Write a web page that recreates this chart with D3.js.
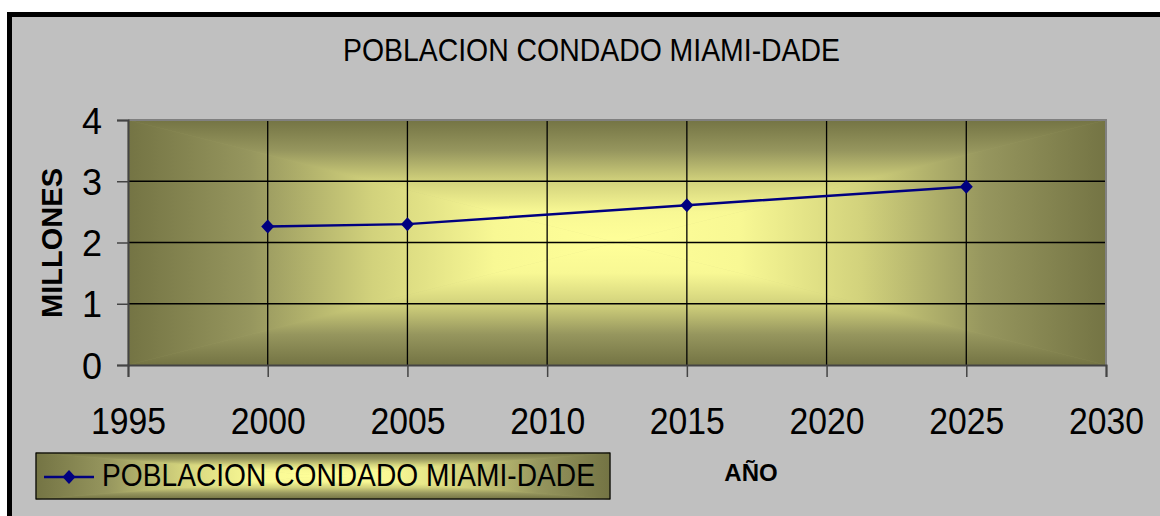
<!DOCTYPE html>
<html>
<head>
<meta charset="utf-8">
<script src="https://cdn.jsdelivr.net/npm/d3@7"></script>
<style>
body{margin:0;background:#fff;}
text{font-family:"Liberation Sans",Arial,sans-serif;fill:#000;}
</style>
</head>
<body>
<div id="chart"></div>
<script>
var years  = [2000, 2005, 2015, 2025];
var values = [2.26, 2.30, 2.61, 2.91];
var xTicks = [1995, 2000, 2005, 2010, 2015, 2020, 2025, 2030];
var yTicks = [0, 1, 2, 3, 4];
var title = "POBLACION CONDADO MIAMI-DADE";
var seriesName = "POBLACION CONDADO MIAMI-DADE";

var W = 1160, H = 516;
var plot = {left:128, top:120, right:1106, bottom:365};

var x = d3.scaleLinear().domain([1995, 2030]).range([plot.left, plot.right]);
var y = d3.scaleLinear().domain([0, 4]).range([plot.bottom, plot.top]);

var svg = d3.select("#chart").append("svg")
	.attr("width", W).attr("height", H);

var defs = svg.append("defs");
var stops = [[0,"#747444"],[0.25,"#96965e"],[0.5,"#d2d27c"],[0.75,"#f8f894"],[1,"#ffff99"]];
var gid = 0;

// excel style "from center" gradient, built from 4 triangles
function centerFill(g, x0, y0, x1, y1){
	var cx = (x0+x1)/2, cy = (y0+y1)/2;
	g.append("rect").attr("x",x0).attr("y",y0).attr("width",x1-x0).attr("height",y1-y0)
		.attr("fill","#b0b070");
	var parts = [
		{pts:[[x0,y0],[x1,y0],[cx,cy]], g:[0,y0,0,cy]},
		{pts:[[x0,y1],[x1,y1],[cx,cy]], g:[0,y1,0,cy]},
		{pts:[[x0,y0],[x0,y1],[cx,cy]], g:[x0,0,cx,0]},
		{pts:[[x1,y0],[x1,y1],[cx,cy]], g:[x1,0,cx,0]}
	];
	parts.forEach(function(p){
		var id = "cg" + (gid++);
		var lg = defs.append("linearGradient").attr("id",id)
			.attr("gradientUnits","userSpaceOnUse")
			.attr("x1",p.g[0]).attr("y1",p.g[1]).attr("x2",p.g[2]).attr("y2",p.g[3]);
		stops.forEach(function(s){
			lg.append("stop").attr("offset",s[0]).attr("stop-color",s[1]);
		});
		g.append("path").attr("d","M"+p.pts.map(function(q){return q.join(",");}).join("L")+"Z")
			.attr("fill","url(#"+id+")")
			.attr("stroke","url(#"+id+")").attr("stroke-width",0.6);
	});
}

// outer frame
svg.append("rect").attr("x",9.5).attr("y",14.5).attr("width",1300).attr("height",700)
	.attr("fill","#c0c0c0").attr("stroke","#000").attr("stroke-width",5);

svg.append("text")
	.attr("x",591.5).attr("y",61)
	.attr("text-anchor","middle")
	.attr("textLength",497).attr("lengthAdjust","spacingAndGlyphs")
	.style("font-size","32px")
	.text(title);

// plot area
var pa = svg.append("g");
centerFill(pa, plot.left, plot.top, plot.right, plot.bottom);

svg.append("g")
	.selectAll("line").data(yTicks.filter(function(d){return d>0 && d<4;}))
	.enter().append("line")
	.attr("x1",plot.left).attr("x2",plot.right)
	.attr("y1",function(d){return y(d);}).attr("y2",function(d){return y(d);})
	.attr("stroke","#000").attr("stroke-width",1.5);

svg.append("g")
	.selectAll("line").data(xTicks.filter(function(d){return d>1995 && d<2030;}))
	.enter().append("line")
	.attr("x1",function(d){return x(d);}).attr("x2",function(d){return x(d);})
	.attr("y1",plot.top).attr("y2",plot.bottom)
	.attr("stroke","#000").attr("stroke-width",1.3);

// plot border top/right
svg.append("path")
	.attr("d","M"+plot.left+","+plot.top+"H"+plot.right+"V"+plot.bottom)
	.attr("fill","none").attr("stroke","#808080").attr("stroke-width",2);

var xAxis = d3.axisBottom(x).tickValues(xTicks).tickSize(12).tickFormat(d3.format("d"));
var yAxis = d3.axisLeft(y).tickValues(yTicks).tickSize(11).tickFormat(d3.format("d"));

var gx = svg.append("g")
	.attr("transform","translate(0,"+plot.bottom+")")
	.call(xAxis);
gx.select(".domain").attr("stroke","#444").attr("stroke-width",2);
gx.selectAll(".tick line").attr("stroke","#444").attr("stroke-width",1.5);
gx.selectAll("text")
	.attr("y",69).attr("dy",0)
	.attr("textLength",75).attr("lengthAdjust","spacingAndGlyphs")
	.style("font-size","36px").attr("fill","#000")
	.style("font-family","'Liberation Sans',Arial,sans-serif");

var gy = svg.append("g")
	.attr("transform","translate("+plot.left+",0)")
	.call(yAxis);
gy.select(".domain").attr("stroke","#444").attr("stroke-width",2);
gy.selectAll(".tick line").attr("stroke","#444").attr("stroke-width",1.5);
gy.selectAll("text")
	.attr("x",-26).attr("dy",13)
	.style("font-size","36px").attr("fill","#000")
	.style("font-family","'Liberation Sans',Arial,sans-serif");

svg.append("text")
	.attr("text-anchor","middle")
	.attr("transform","translate(62,243)rotate(-90)")
	.attr("textLength",150).attr("lengthAdjust","spacingAndGlyphs")
	.style("font-size","30px").style("font-weight","bold")
	.text("MILLONES");

svg.append("text")
	.attr("x",751).attr("y",481)
	.attr("text-anchor","middle")
	.style("font-size","24px").style("font-weight","bold")
	.text("AÑO");

// series
var line = d3.line()
	.x(function(d,i){return x(years[i]);})
	.y(function(d){return y(d);});

svg.append("path")
	.datum(values)
	.attr("d",line)
	.attr("fill","none").attr("stroke","#000080").attr("stroke-width",2.5);

function diamond(cx, cy){
	return "M"+cx+","+(cy-7)+"L"+(cx+6.5)+","+cy+"L"+cx+","+(cy+7)+"L"+(cx-6.5)+","+cy+"Z";
}

svg.append("g").selectAll("path")
	.data(values).enter().append("path")
	.attr("d",function(d,i){return diamond(x(years[i]), y(d));})
	.attr("fill","#000080");

// legend
var lg = svg.append("g");
centerFill(lg, 36, 453, 610, 499);
lg.append("rect").attr("x",36).attr("y",453).attr("width",574).attr("height",46)
	.attr("fill","none").attr("stroke","#000").attr("stroke-width",1.2);
lg.append("line").attr("x1",44).attr("x2",94).attr("y1",477).attr("y2",477)
	.attr("stroke","#000080").attr("stroke-width",2.5);
lg.append("path").attr("d",diamond(69,477)).attr("fill","#000080");
lg.append("text")
	.attr("x",102).attr("y",486)
	.attr("textLength",493).attr("lengthAdjust","spacingAndGlyphs")
	.style("font-size","32px")
	.text(seriesName);
</script>
</body>
</html>
